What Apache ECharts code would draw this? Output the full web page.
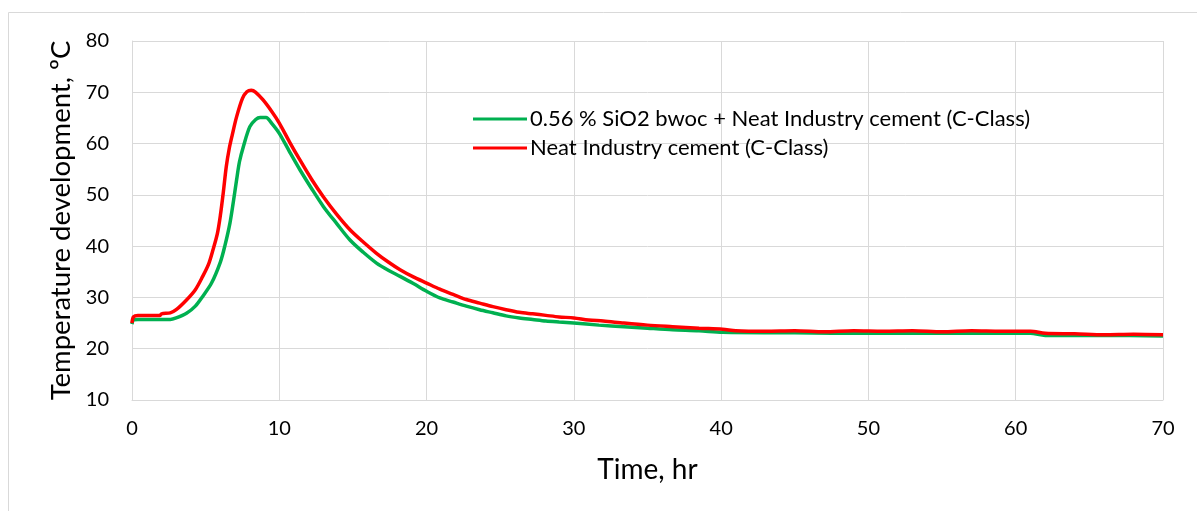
<!DOCTYPE html>
<html>
<head>
<meta charset="utf-8">
<script src="https://cdn.jsdelivr.net/npm/echarts@6/dist/echarts.min.js"></script>
<style>
  html, body { margin: 0; padding: 0; background: #fff; }
  #main { width: 1197px; height: 511px; }
</style>
</head>
<body>
<div id="main"></div>
<script>
// names
var seriesNames = ['0.56 % SiO2 bwoc + Neat Industry cement (C-Class)', 'Neat Industry cement (C-Class)'];

// green series: time (hr) / temperature (ºC)
var timeSio2 = [0, 0.1, 0.4, 2.6, 3.0, 3.7, 4.3, 4.8, 5.4, 6.0, 6.3, 6.65, 6.9, 7.1, 7.3, 7.56, 8.0, 8.4, 8.7, 9.1,
  9.5, 10.0, 10.7, 11.4, 12.2, 13.0, 13.9, 14.8, 15.7, 16.6, 17.4, 18.2, 19.1, 20.0, 20.9, 21.8, 22.7, 23.6, 24.5,
  25.4, 26.3, 27.2, 28.1, 29.0, 30.0, 31.7, 33.4, 35.0, 36.7, 38.5, 40.1, 45.0, 50.0, 55.0, 61.0, 62.0, 66.0, 70.0];
var tempSio2 = [24.8, 25.6, 25.7, 25.7, 26.0, 26.9, 28.3, 30.2, 32.8, 36.9, 40.0, 44.5, 49.0, 52.9, 56.5, 59.4, 63.3, 64.7, 65.1, 65.1,
  63.9, 62.0, 58.4, 54.9, 51.2, 47.7, 44.4, 41.2, 38.8, 36.7, 35.3, 34.1, 32.7, 31.2, 29.9, 29.1, 28.3, 27.6, 27.0,
  26.4, 26.0, 25.7, 25.4, 25.2, 25.0, 24.6, 24.3, 24.0, 23.7, 23.5, 23.2, 23.1, 23.0, 23.0, 23.0, 22.6, 22.6, 22.5];

// red series: time (hr) / temperature (ºC)
var timeNeat = [0, 0.1, 0.4, 1.9, 2.0, 2.6, 3.0, 3.7, 4.3, 4.8, 5.2, 5.5, 5.8, 6.0, 6.2, 6.4, 6.6, 6.8, 7.1, 7.5,
  7.8, 8.1, 8.4, 8.9, 9.5, 10.0, 10.7, 11.4, 12.2, 13.0, 13.9, 14.8, 15.7, 16.6, 17.4, 18.2, 19.1, 20.0, 20.9,
  21.8, 22.7, 23.6, 24.5, 25.4, 26.3, 27.2, 28.1, 29.0, 30.0, 31.0, 32.0, 33.4, 35.0, 36.7, 38.5, 40.1, 41.0,
  43.0, 45.0, 47.0, 49.0, 51.0, 53.0, 55.0, 57.0, 59.0, 61.0, 62.0, 64.0, 66.0, 68.0, 70.0];
var tempNeat = [25.0, 26.2, 26.5, 26.5, 26.8, 27.0, 27.6, 29.5, 31.5, 34.1, 36.5, 39.3, 42.5, 46.0, 50.5, 55.5, 59.0, 61.6, 65.2, 68.8,
  70.1, 70.4, 70.0, 68.5, 66.2, 64.0, 60.3, 56.8, 53.0, 49.6, 46.2, 43.2, 40.8, 38.6, 36.9, 35.4, 34.0, 32.8, 31.6,
  30.6, 29.6, 28.9, 28.2, 27.6, 27.1, 26.8, 26.5, 26.2, 26.0, 25.6, 25.4, 25.0, 24.6, 24.3, 24.0, 23.8, 23.5,
  23.4, 23.5, 23.3, 23.5, 23.4, 23.5, 23.3, 23.5, 23.4, 23.4, 23.0, 22.9, 22.7, 22.8, 22.7];

// axis ticks
var xTicks = [0, 10, 20, 30, 40, 50, 60, 70];
var yTicks = [10, 20, 30, 40, 50, 60, 70, 80];

function pairs(xs, ys) {
  return xs.map(function (x, i) { return [x, ys[i]]; });
}

var chart = echarts.init(document.getElementById('main'));
var fontFam = 'Lato';
var gridColor = '#d9d9d9';

var option = {
  animation: false,
  textStyle: { fontFamily: fontFam, color: '#000' },
  graphic: [{
    type: 'rect',
    shape: { x: 8.5, y: 12.5, width: 1300, height: 700 },
    style: { fill: 'none', stroke: gridColor, lineWidth: 1 },
    silent: true,
    z: -1
  }],
  grid: { left: 132, right: 34, top: 41, bottom: 111 },
  legend: {
    orient: 'vertical',
    left: 468,
    top: 103,
    itemGap: 7,
    itemWidth: 54,
    itemHeight: 3,
    icon: 'rect',
    textStyle: { fontFamily: fontFam, fontSize: 22, color: '#000', padding: [0, 0, 0, -2] },
    data: seriesNames
  },
  xAxis: {
    type: 'value',
    min: xTicks[0],
    max: xTicks[xTicks.length - 1],
    interval: 10,
    name: 'Time, hr',
    nameLocation: 'middle',
    nameGap: 56,
    nameTextStyle: { fontFamily: fontFam, fontSize: 28, color: '#000' },
    axisLine: { show: true, lineStyle: { color: gridColor } },
    axisTick: { show: false },
    axisLabel: { fontFamily: fontFam, fontSize: 20, color: '#000', margin: 19 },
    splitLine: { show: true, lineStyle: { color: gridColor, width: 1 } }
  },
  yAxis: {
    type: 'value',
    min: yTicks[0],
    max: yTicks[yTicks.length - 1],
    interval: 10,
    name: 'Temperature development, ºC',
    nameLocation: 'middle',
    nameGap: 52,
    nameTextStyle: { fontFamily: fontFam, fontSize: 27.5, color: '#000' },
    axisLine: { show: true, lineStyle: { color: gridColor } },
    axisTick: { show: false },
    axisLabel: { fontFamily: fontFam, fontSize: 20, color: '#000', margin: 23 },
    splitLine: { show: true, lineStyle: { color: gridColor, width: 1 } }
  },
  series: [{
    name: seriesNames[0],
    type: 'line',
    data: pairs(timeSio2, tempSio2),
    showSymbol: false,
    symbol: 'none',
    smooth: 0.3,
    lineStyle: { color: '#00b050', width: 3.5 },
    itemStyle: { color: '#00b050' }
  }, {
    name: seriesNames[1],
    type: 'line',
    data: pairs(timeNeat, tempNeat),
    showSymbol: false,
    symbol: 'none',
    smooth: 0.3,
    lineStyle: { color: '#ff0000', width: 3.5 },
    itemStyle: { color: '#ff0000' }
  }]
};

chart.setOption(option);
</script>
</body>
</html>
